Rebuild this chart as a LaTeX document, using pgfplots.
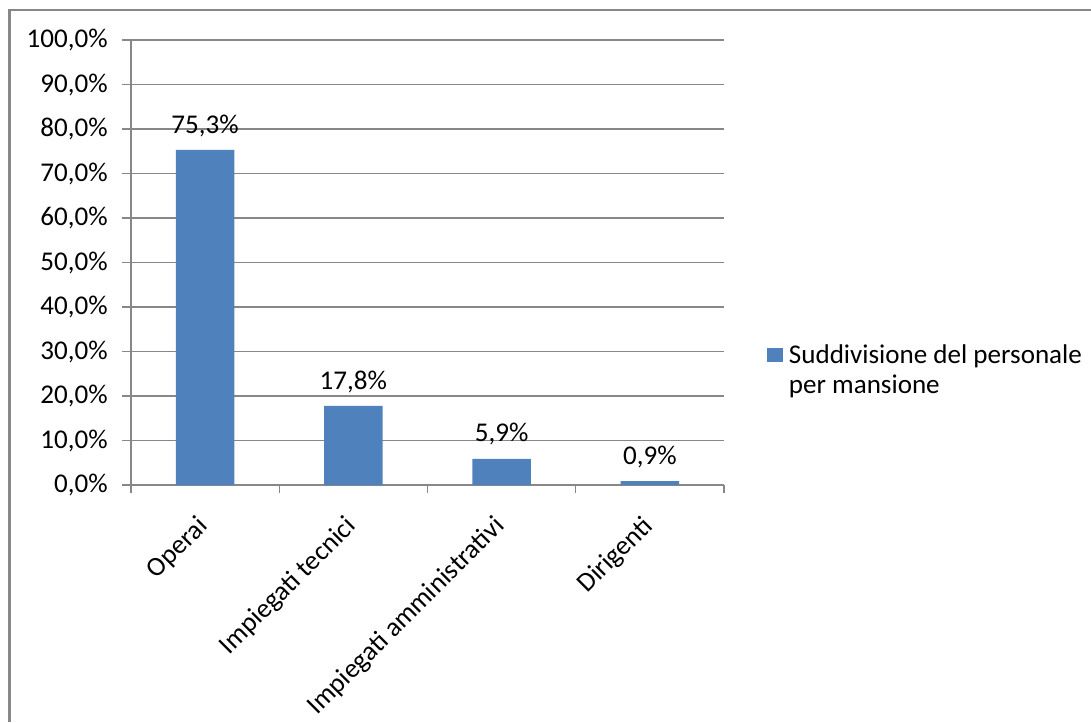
\documentclass[border=0pt]{standalone}
\usepackage{pgfplots}
\pgfplotsset{compat=1.18}
\usepackage{fontspec}
\setmainfont{Carlito}
\definecolor{barblue}{HTML}{4F81BD}
\definecolor{gridgray}{HTML}{878787}
\begin{document}
\fontsize{20.3}{22.5}\selectfont
\begin{tikzpicture}
\path[use as bounding box] (0,0) rectangle (818.25pt,541.5pt);
\draw[gridgray, line width=2.2pt] (7.1pt,0) -- (7.1pt,534pt) -- (818.25pt,534pt);
\begin{axis}[
  at={(98.25pt,177.75pt)}, anchor=south west,
  scale only axis, width=444.75pt, height=333.75pt,
  /pgf/number format/assume math mode=true,
  ybar, bar width=44pt,
  xmin=-0.5, xmax=3.5, ymin=0, ymax=100,
  ytick={0,10,...,100},
  yticklabel={\pgfmathprintnumber[fixed,fixed zerofill,precision=1,use comma]{\tick}\%},
  xtick={0,1,2,3},
  xticklabels={Operai,Impiegati tecnici,Impiegati amministrativi,Dirigenti},
  minor xtick={-0.5,0.5,1.5,2.5,3.5},
  axis x line*=bottom, axis y line*=left,
  axis line style={gridgray, line width=1.1pt, -},
  tick align=outside,
  major tick length=6.5pt, minor tick length=6pt,
  tick style={gridgray, line width=0.9pt},
  major x tick style={draw=none},
  minor x tick style={draw=gridgray},
  ymajorgrids, grid style={gridgray, line width=1.2pt},
  tick label style={font=\fontsize{20.3}{22.5}\selectfont, text=black},
  yticklabel style={xshift=-4pt},
  xticklabel style={rotate=45, anchor=north east, xshift=-9pt, yshift=1pt},
  nodes near coords={\pgfmathprintnumber[fixed,fixed zerofill,precision=1,use comma]{\pgfplotspointmeta}\%},
  nodes near coords style={font=\fontsize{20.3}{22.5}\selectfont, text=black, yshift=3pt},
  legend style={at={(1,0.292)}, anchor=west, xshift=29pt, draw=none, fill=none,
    font=\fontsize{20.3}{22.5}\selectfont, cells={anchor=west}},
  legend image code/.code={\fill[barblue] (0pt,-5.2pt) rectangle (12pt,5.2pt);},
]
\addplot[fill=barblue, draw=none] coordinates {(0,75.3) (1,17.8) (2,5.9) (3,0.9)};
\addlegendentry{\hspace{2.5pt}\begin{tabular}[t]{@{}l@{}}Suddivisione del personale\\per mansione\end{tabular}}
\end{axis}
\end{tikzpicture}
\end{document}
